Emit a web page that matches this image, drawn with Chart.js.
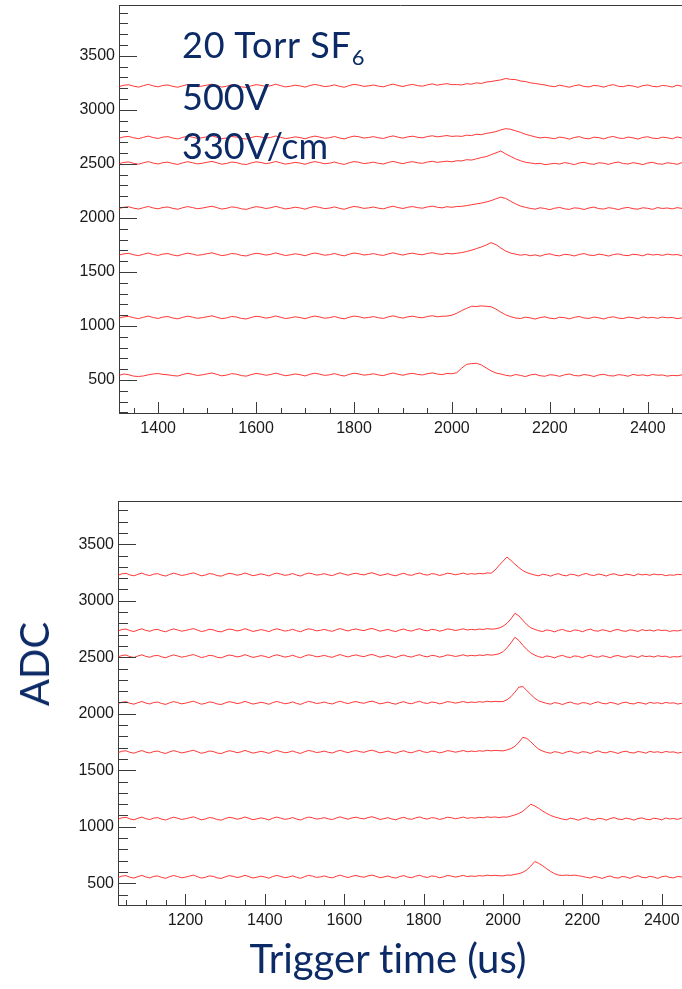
<!DOCTYPE html>
<html><head><meta charset="utf-8">
<script src="https://cdn.jsdelivr.net/npm/chart.js@4.4.1/dist/chart.umd.min.js"></script>
<style>
html,body{margin:0;padding:0;background:#fff;width:682px;height:989px;overflow:hidden;}
#top{position:absolute;left:0;top:0;width:682px;height:445px;}
#bot{position:absolute;left:0;top:480px;width:682px;height:460px;}
.t{position:absolute;font-family:Lato,'Open Sans',sans-serif;color:#0c2a66;white-space:nowrap;line-height:1;font-variant-ligatures:none;font-feature-settings:"liga" 0;}
.ann{font-size:36px;left:182px;}
.ann sub{font-size:22px;vertical-align:-7px;line-height:0;}
</style></head><body>
<div id="top"><canvas id="c1" width="682" height="445"></canvas></div>
<div id="bot"><canvas id="c2" width="682" height="460"></canvas></div>
<div class="t ann" style="top:26px;letter-spacing:0.8px">20 Torr SF<sub>6</sub></div>
<div class="t ann" style="top:78px">500V</div>
<div class="t ann" style="top:127px">330V/cm</div>
<div class="t" style="font-size:40px;left:34px;top:664px;transform:translate(-50%,-50%) rotate(-90deg);">ADC</div>
<div class="t" style="font-size:40px;left:388px;top:938px;transform:translateX(-50%);">Trigger time (us)</div>
<script>
// ---- data ----
const yTickLabels = [500, 1000, 1500, 2000, 2500, 3000, 3500];
const topXTickLabels = [1400, 1600, 1800, 2000, 2200, 2400];
const botXTickLabels = [1200, 1400, 1600, 1800, 2000, 2200, 2400];

const topTimes = [1320,1330,1340,1350,1360,1370,1380,1390,1400,1410,
1420,1430,1440,1450,1460,1470,1480,1490,1500,1510,
1520,1530,1540,1550,1560,1570,1580,1590,1600,1610,
1620,1630,1640,1650,1660,1670,1680,1690,1700,1710,
1720,1730,1740,1750,1760,1770,1780,1790,1800,1810,
1820,1830,1840,1850,1860,1870,1880,1890,1900,1910,
1920,1930,1940,1950,1960,1970,1980,1990,2000,2010,
2020,2030,2040,2050,2060,2070,2080,2090,2100,2110,
2120,2130,2140,2150,2160,2170,2180,2190,2200,2210,
2220,2230,2240,2250,2260,2270,2280,2290,2300,2310,
2320,2330,2340,2350,2360,2370,2380,2390,2400,2410,
2420,2430,2440,2450,2460,2470,2480];

const top1 = [3215,3228,3232,3219,3210,3224,3236,3221,3213,3226,
3230,3217,3209,3222,3234,3225,3214,3220,3229,3238,
3224,3211,3218,3231,3226,3213,3207,3222,3233,3227,
3216,3223,3237,3224,3212,3219,3228,3221,3210,3225,
3235,3226,3215,3220,3231,3218,3209,3224,3236,3229,
3217,3222,3230,3219,3213,3227,3238,3225,3216,3228,
3235,3224,3219,3231,3240,3228,3236,3242,3233,
3234,3230,3242,3237,3250,3244,3257,3262,3270,3277,3290,3282,3280,3267,3262,3250,3244,3237,3230,
3220,3214,3228,3219,3209,3223,3231,3216,3212,3226,
3221,3210,3225,3233,3218,3214,3227,3220,3208,3224,
3230,3217,3213,3226,3221,3211,3228,3219,3224];
const top2 = [2738,2750,2754,2741,2733,2746,2757,2743,2735,2748,
2752,2739,2731,2745,2756,2747,2736,2742,2751,2759,
2746,2733,2740,2753,2748,2735,2730,2744,2755,2749,
2738,2745,2758,2746,2734,2741,2750,2743,2732,2747,
2757,2748,2737,2742,2753,2740,2731,2746,2757,2751,
2739,2744,2752,2741,2735,2749,2759,2747,2738,2750,
2756,2746,2741,2753,2760,2750,2756,2762,2754,
2758,2754,2766,2762,2774,2770,2782,2789,2799,2814,2826,2820,2806,2792,2774,2762,2750,2740,2746,
2740,2733,2748,2741,2729,2744,2752,2737,2732,2747,
2743,2731,2746,2754,2739,2735,2748,2741,2729,2745,
2751,2738,2734,2747,2742,2732,2749,2740,2745];
const top3 = [2502,2514,2518,2505,2497,2510,2521,2507,2499,2512,
2516,2503,2495,2509,2520,2511,2500,2506,2515,2523,
2510,2497,2504,2517,2512,2499,2494,2508,2519,2513,
2502,2509,2522,2510,2498,2505,2514,2507,2496,2511,
2521,2512,2501,2506,2517,2504,2495,2510,2521,2515,
2503,2508,2516,2505,2499,2513,2523,2511,2502,2514,
2520,2510,2505,2517,2524,2514,2520,
2525,2519,2529,2527,2539,2535,2547,2559,2567,2585,2602,2619,2592,2569,2547,2529,2515,2509,2501,2505,2493,2499,
2505,2498,2512,2504,2493,2508,2515,2501,2496,2510,
2506,2495,2509,2517,2503,2499,2511,2504,2493,2508,
2514,2501,2497,2510,2505,2496,2512,2503];
const top4 = [2087,2099,2103,2090,2082,2095,2106,2092,2084,2097,
2101,2088,2080,2094,2105,2096,2085,2091,2100,2108,
2095,2082,2089,2102,2097,2084,2079,2093,2104,2098,
2087,2094,2107,2095,2083,2090,2099,2092,2081,2096,
2106,2097,2086,2091,2102,2089,2080,2095,2106,2100,
2088,2093,2101,2090,2084,2098,2108,2096,2087,2099,
2105,2095,2090,2102,2109,2099,2093,2104,2098,2106,
2107,2114,2122,2130,2137,2147,2160,2177,2192,2180,2154,2130,2110,2098,
2088,2081,2094,2087,2076,2090,2097,2084,2079,2093,
2089,2078,2092,2100,2086,2082,2095,2088,2077,2091,
2097,2085,2081,2094,2089,2079,2096,2087,2092,2083,
2095,2088,2091];
const top5 = [1656,1668,1672,1659,1651,1664,1675,1661,1653,1666,
1670,1657,1649,1663,1674,1665,1654,1660,1669,1677,
1664,1651,1658,1671,1666,1653,1648,1662,1673,1667,
1656,1663,1676,1664,1652,1659,1668,1661,1650,1665,
1675,1666,1655,1660,1671,1658,1649,1664,1675,1669,
1657,1662,1670,1659,1653,1667,1677,1665,1656,1668,
1674,1664,1659,1671,1678,1668,1662,1673,1667,
1673,1679,1689,1701,1716,1731,1749,1771,1753,1721,1693,1675,1665,
1655,1662,1650,1658,1646,1661,1668,1654,1649,1663,
1659,1648,1662,1670,1656,1652,1665,1658,1647,1661,
1667,1655,1651,1664,1659,1649,1666,1657,1662,1653,
1665,1658,1661,1650,1657];
const top6 = [1073,1085,1089,1076,1068,1081,1092,1078,1070,1083,
1087,1074,1066,1080,1091,1082,1071,1077,1086,1094,
1081,1068,1075,1088,1083,1070,1065,1079,1090,1084,
1073,1080,1093,1081,1069,1076,1085,1078,1067,1082,
1092,1083,1072,1077,1088,1075,1066,1081,1092,1086,
1074,1079,1087,1076,1070,1084,1094,1082,1073,1085,
1091,1081,1076,1088,1095,1085,1090,
1092,1100,1118,1143,1163,1183,1180,1186,1182,1178,1156,1128,1103,1086,
1074,1069,1082,1075,1064,1078,1085,1072,1067,1081,
1077,1066,1080,1088,1074,1070,1083,1076,1065,1079,
1085,1073,1069,1082,1077,1067,1084,1075,1080,1071,
1083,1076,1079,1068,1075,1072];
const top7 = [543,556,549,536,533,538,548,556,560,552,
548,541,537,551,562,553,542,548,557,565,
552,539,546,559,554,541,536,550,561,555,
544,551,564,552,540,547,556,549,538,553,
563,554,543,548,559,546,537,552,563,557,
545,550,558,547,541,555,565,553,544,556,
562,552,547,559,566,556,550,561,558,
568,610,645,652,655,640,612,585,565,556,
544,537,551,543,532,547,554,540,535,549,
545,534,548,556,542,538,551,544,533,547,
553,541,537,550,545,535,552,543,548,539,
551,544,547,536,543,540,548,545];

const botTimes = [1030,1040,1050,1060,1070,1080,1090,1100,1110,1120,
1130,1140,1150,1160,1170,1180,1190,1200,1210,1220,
1230,1240,1250,1260,1270,1280,1290,1300,1310,1320,
1330,1340,1350,1360,1370,1380,1390,1400,1410,1420,
1430,1440,1450,1460,1470,1480,1490,1500,1510,1520,
1530,1540,1550,1560,1570,1580,1590,1600,1610,1620,
1630,1640,1650,1660,1670,1680,1690,1700,1710,1720,
1730,1740,1750,1760,1770,1780,1790,1800,1810,1820,
1830,1840,1850,1860,1870,1880,1890,1900,1910,1920,
1930,1940,1950,1960,1970,1980,1990,2000,2010,2020,
2030,2040,2050,2060,2070,2080,2090,2100,2110,2120,
2130,2140,2150,2160,2170,2180,2190,2200,2210,2220,
2230,2240,2250,2260,2270,2280,2290,2300,2310,2320,
2330,2340,2350,2360,2370,2380,2390,2400,2410,2420,
2430,2440,2450,2460,2470];

const bot1 = [3226,3239,3243,3229,3221,3234,3245,3231,3223,3236,
3240,3227,3219,3233,3244,3235,3224,3230,3239,3247,
3234,3221,3228,3241,3236,3223,3218,3232,3243,3237,
3226,3233,3246,3234,3222,3229,3238,3231,3220,3235,
3245,3236,3225,3230,3241,3228,3219,3234,3245,3239,
3227,3232,3240,3229,3223,3237,3247,3235,3226,3238,
3244,3234,3229,3241,3248,3237,3224,3231,3240,3228,
3221,3235,3243,3230,3225,3238,3246,3233,3227,3240,
3236,3224,3232,3244,3239,3230,3237,3245,3234,3240,
3236,3243,3238,3247,
3244,3272,3312,3350,3387,3357,3324,3294,3267,3250,3238,
3228,3221,3235,3229,3218,3232,3240,3226,3221,3235,
3231,3219,3233,3242,3228,3224,3237,3230,3219,3233,
3239,3227,3223,3236,3231,3221,3238,3229,3234,3225,
3237,3230,3233,3222,3229,3226,3234,3231,3224,3236];
const bot2 = [2733,2746,2750,2736,2728,2741,2752,2738,2730,2743,
2747,2734,2726,2740,2751,2742,2731,2737,2746,2754,
2741,2728,2735,2748,2743,2730,2725,2739,2750,2744,
2733,2740,2753,2741,2729,2736,2745,2738,2727,2742,
2752,2743,2732,2737,2748,2735,2726,2741,2752,2746,
2734,2739,2747,2736,2730,2744,2754,2742,2733,2745,
2751,2741,2736,2748,2755,2744,2731,2738,2747,2735,
2728,2742,2750,2737,2732,2745,2753,2740,2734,2747,
2743,2731,2739,2751,2746,2737,2744,2752,2741,2747,
2743,2750,2746,2754,2749,
2751,2759,2774,2801,2839,2889,2867,2827,2789,2761,2747,
2735,2728,2742,2736,2725,2739,2747,2733,2728,2742,
2738,2726,2740,2749,2735,2731,2744,2737,2726,2740,
2746,2734,2730,2743,2738,2728,2745,2736,2741,2732,
2744,2737,2740,2729,2736,2733,2741,2738,2731];
const bot3 = [2503,2516,2520,2506,2498,2511,2522,2508,2500,2513,
2517,2504,2496,2510,2521,2512,2501,2507,2516,2524,
2511,2498,2505,2518,2513,2500,2495,2509,2520,2514,
2503,2510,2523,2511,2499,2506,2515,2508,2497,2512,
2522,2513,2502,2507,2518,2505,2496,2511,2522,2516,
2504,2509,2517,2506,2500,2514,2524,2512,2503,2515,
2521,2511,2506,2518,2525,2514,2501,2508,2517,2505,
2498,2512,2520,2507,2502,2515,2523,2510,2504,2517,
2513,2501,2509,2521,2516,2507,2514,2522,2511,2517,
2513,2520,2516,2524,2519,
2523,2531,2549,2584,2627,2677,2649,2607,2569,2539,2519,
2505,2498,2512,2506,2495,2509,2517,2503,2498,2512,
2508,2496,2510,2519,2505,2501,2514,2507,2496,2510,
2516,2504,2500,2513,2508,2498,2515,2506,2511,2502,
2514,2507,2510,2499,2506,2503,2511,2508,2501];
const bot4 = [2090,2103,2107,2093,2085,2098,2109,2095,2087,2100,
2104,2091,2083,2097,2108,2099,2088,2094,2103,2111,
2098,2085,2092,2105,2100,2087,2082,2096,2107,2101,
2090,2097,2110,2098,2086,2093,2102,2095,2084,2099,
2109,2100,2089,2094,2105,2092,2083,2098,2109,2103,
2091,2096,2104,2093,2087,2101,2111,2099,2090,2102,
2108,2098,2093,2105,2112,2101,2088,2095,2104,2092,
2085,2099,2107,2094,2089,2102,2110,2097,2091,2104,
2100,2088,2096,2108,2103,2094,2101,2109,2098,2104,
2100,2107,2103,2111,2106,2110,2108,
2108,2124,2151,2191,2236,2241,2206,2171,2138,2114,2102,
2092,2085,2099,2093,2082,2096,2104,2090,2085,2099,
2095,2083,2097,2106,2092,2088,2101,2094,2083,2097,
2103,2091,2087,2100,2095,2085,2102,2093,2098,2089,
2101,2094,2097,2086,2093,2090,2098];
const bot5 = [1656,1669,1673,1659,1651,1664,1675,1661,1653,1666,
1670,1657,1649,1663,1674,1665,1654,1660,1669,1677,
1664,1651,1658,1671,1666,1653,1648,1662,1673,1667,
1656,1663,1676,1664,1652,1659,1668,1661,1650,1665,
1675,1666,1655,1660,1671,1658,1649,1664,1675,1669,
1657,1662,1670,1659,1653,1667,1677,1665,1656,1668,
1674,1664,1659,1671,1678,1667,1654,1661,1670,1658,
1651,1665,1673,1660,1655,1668,1676,1663,1657,1670,
1666,1654,1662,1674,1669,1660,1667,1675,1664,1670,
1666,1673,1669,1677,1672,1676,1674,
1672,1680,1692,1712,1747,1792,1782,1752,1717,1687,1670,
1658,1651,1665,1659,1648,1662,1670,1656,1651,1665,
1661,1649,1663,1672,1658,1654,1667,1660,1649,1663,
1669,1657,1653,1666,1661,1651,1668,1659,1664,1655,
1667,1660,1663,1652,1659,1656,1664];
const bot6 = [1067,1080,1084,1070,1062,1075,1086,1072,1064,1077,
1081,1068,1060,1074,1085,1076,1065,1071,1080,1088,
1075,1062,1069,1082,1077,1064,1059,1073,1084,1078,
1067,1074,1087,1075,1063,1070,1079,1072,1061,1076,
1086,1077,1066,1071,1082,1069,1060,1075,1086,1080,
1068,1073,1081,1070,1064,1078,1088,1076,1067,1079,
1085,1075,1070,1082,1089,1078,1065,1072,1081,1069,
1062,1076,1084,1071,1066,1079,1087,1074,1068,1081,
1077,1065,1073,1085,1080,1071,1078,1086,1075,1081,
1077,1084,1080,1088,1083,1087,
1081,1087,1085,1095,1105,1118,1138,1168,1200,1185,1163,1139,1118,1101,1087,1078,
1068,1062,1076,1069,1058,1072,1080,1066,1061,1075,
1071,1059,1073,1082,1068,1064,1077,1070,1059,1073,
1079,1067,1063,1076,1071,1061,1078,1069,1074,1065,
1077,1070,1073];
const bot7 = [551,564,568,554,546,559,570,556,548,561,
565,552,544,558,569,560,549,555,564,572,
559,546,553,566,561,548,543,557,568,562,
551,558,571,559,547,554,563,556,545,560,
570,561,550,555,566,553,544,559,570,564,
552,557,565,554,548,562,572,560,551,563,
569,559,554,566,573,562,549,556,565,553,
546,560,568,555,550,563,571,558,552,565,
561,549,557,569,564,555,562,570,559,565,
561,568,564,572,567,571,
567,565,573,571,579,585,597,619,652,693,677,655,629,605,585,573,569,573,569,572,567,561,
553,547,561,554,543,557,565,551,546,560,
556,544,558,567,553,549,562,555,544,558,
564,552,548,561,556,546,560];

// sanity check of hand-read arrays
[[topTimes,[top1,top2,top3,top4,top5,top6,top7],'top'],[botTimes,[bot1,bot2,bot3,bot4,bot5,bot6,bot7],'bot']].forEach(([t,arrs,n]) => {
  arrs.forEach((a,k) => { if (a.length !== t.length) throw new Error(n + (k+1) + ' length ' + a.length + ' vs ' + t.length); });
});

// ---- drawing ----
const rootTicks = {
  id: 'rootTicks',
  afterDraw(chart, args, o) {
    const {ctx, chartArea: a, scales: {x, y}} = chart;
    ctx.save();
    ctx.strokeStyle = '#3a3a3a';
    ctx.lineWidth = 1;
    ctx.beginPath();
    ctx.moveTo(a.left, Math.round(a.top) + 0.5);
    ctx.lineTo(a.right, Math.round(a.top) + 0.5);
    for (let v = Math.ceil(y.min / 100) * 100; v <= y.max; v += 100) {
      const py = Math.round(y.getPixelForValue(v)) + 0.5;
      const len = v % 500 === 0 ? o.yMajor : o.yMinor;
      ctx.moveTo(a.left, py); ctx.lineTo(a.left + len, py);
    }
    for (let v = Math.ceil(x.min / 50) * 50; v <= x.max; v += 50) {
      const px = Math.round(x.getPixelForValue(v)) + 0.5;
      const len = v % 200 === 0 ? o.xMajor : o.xMinor;
      ctx.moveTo(px, a.bottom); ctx.lineTo(px, a.bottom - len);
    }
    ctx.stroke();
    ctx.restore();
  }
};

function makeChart(id, times, traces, xTicks, cfg) {
  const datasets = traces.map(vals => ({
    data: times.map((t, i) => ({x: t, y: vals[i]})),
    borderColor: 'rgba(255,20,20,0.85)',
    borderWidth: 1,
    pointRadius: 0,
    tension: 0,
    fill: false
  }));
  const tickFont = {family: "'Liberation Sans', Arial, sans-serif", size: 16};
  return new Chart(document.getElementById(id), {
    type: 'line',
    data: {datasets},
    options: {
      responsive: false,
      animation: false,
      devicePixelRatio: 1,
      layout: {padding: {top: cfg.padTop, left: 0, right: 0, bottom: 0}},
      plugins: {legend: {display: false}, tooltip: {enabled: false}, rootTicks: cfg.ticks},
      scales: {
        x: {
          type: 'linear', min: cfg.xmin, max: cfg.xmax,
          grid: {display: false, drawTicks: false},
          border: {display: true, color: '#3a3a3a', width: 1},
          ticks: {font: tickFont, color: '#1a1a1a', padding: cfg.xPad, maxRotation: 0, autoSkip: false,
                  callback: v => String(v)},
          afterBuildTicks: s => { s.ticks = xTicks.map(v => ({value: v})); },
          afterFit: s => { s.height = cfg.xH; s.paddingLeft = 0; s.paddingRight = 0; }
        },
        y: {
          type: 'linear', min: cfg.ymin, max: cfg.ymax,
          grid: {display: false, drawTicks: false},
          border: {display: true, color: '#3a3a3a', width: 1},
          ticks: {font: tickFont, color: '#1a1a1a', padding: 4, autoSkip: false,
                  callback: v => String(v)},
          afterBuildTicks: s => { s.ticks = yTickLabels.map(v => ({value: v})); },
          afterFit: s => { s.width = cfg.yW; s.paddingTop = 0; s.paddingBottom = 0; }
        }
      }
    },
    plugins: [rootTicks]
  });
}

makeChart('c1', topTimes, [top1, top2, top3, top4, top5, top6, top7], topXTickLabels, {
  padTop: 5, xH: 32, yW: 119, xPad: 6,
  xmin: 1320, xmax: 2470, ymin: 195, ymax: 3970,
  ticks: {yMajor: 18, yMinor: 9, xMajor: 11, xMinor: 5}
});
makeChart('c2', botTimes, [bot1, bot2, bot3, bot4, bot5, bot6, bot7], botXTickLabels, {
  padTop: 21, xH: 35, yW: 118, xPad: 6,
  xmin: 1030, xmax: 2451, ymin: 308, ymax: 3883,
  ticks: {yMajor: 18, yMinor: 10, xMajor: 11, xMinor: 5}
});
</script>
</body></html>
